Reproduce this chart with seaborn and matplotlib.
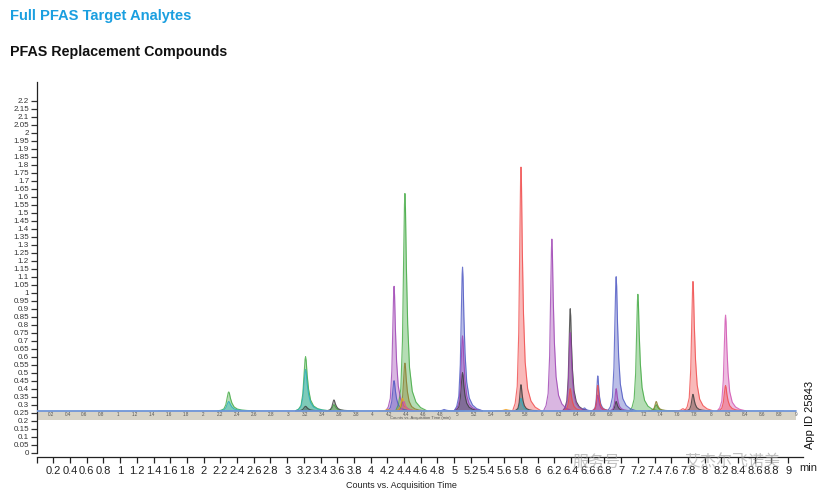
import numpy as np
import pandas as pd
import seaborn as sns
import matplotlib.pyplot as plt
from matplotlib.patches import Rectangle

# chromatogram peaks (outer axis units)
peak_times = [2.30, 2.30, 3.22, 3.22, 3.22, 3.56, 3.56, 4.28, 4.28, 4.41, 4.41, 4.38, 4.40, 4.20,
              5.10, 5.10, 5.10, 4.88, 5.80, 5.80, 5.80, 5.62, 6.17, 6.39, 6.39, 6.39, 6.56,
              6.72, 6.72, 6.72, 6.94, 6.94, 6.94, 7.20, 7.42, 7.42, 7.86, 7.86, 7.74, 8.25, 8.25]
peak_tops = [0.38, 0.32, 0.60, 0.52, 0.29, 0.33, 0.30, 1.04, 0.45, 1.62, 0.56, 0.34, 0.32, 0.27,
             1.16, 0.73, 0.50, 0.27, 1.785, 0.425, 0.34, 0.27, 1.335, 0.90, 0.75, 0.40, 0.28,
             0.48, 0.42, 0.36, 1.10, 0.40, 0.32, 0.99, 0.32, 0.30, 1.07, 0.365, 0.275, 0.86, 0.42]
peak_compounds = ['G', 'T', 'G', 'T', 'K', 'K', 'G', 'P', 'B', 'G', 'O', 'Y', 'M', 'Y',
                  'B', 'P', 'K', 'B', 'R', 'K', 'T', 'Y', 'P', 'K', 'P', 'R', 'B',
                  'B', 'R', 'P', 'B', 'P', 'K', 'G', 'O', 'G', 'R', 'K', 'R', 'M', 'R']
peak_widths = [1.3, 1.3, 1.2, 1.2, 1.2, 1.0, 1.0, 1.0, 1.0, 1.1, 1.0, 1.0, 0.8, 1.0,
               1.0, 1.0, 1.0, 1.0, 1.0, 0.8, 0.8, 1.3, 1.0, 0.9, 0.9, 0.9, 0.8,
               0.7, 0.7, 0.7, 1.0, 0.8, 0.8, 1.0, 0.9, 0.9, 1.0, 0.9, 1.0, 1.0, 1.0]

# typical tailing peak shape, read from the 5.8 min peak
shape_offsets = [-0.1, -0.07, -0.045, -0.027, -0.014, -0.005, 0.0, 0.006, 0.016, 0.03,
                 0.05, 0.08, 0.12, 0.17, 0.24]
shape_rel = [0.0, 0.03, 0.1, 0.32, 0.7, 0.95, 1.0, 0.93, 0.66, 0.4, 0.2, 0.09, 0.04, 0.015, 0.0]

baseline = 0.262
hump_start, hump_end, hump_height = 1.45, 8.95, 0.008

x_ticks = [round(0.2 * i, 1) for i in range(46)]
inner_ticks = [round(0.2 * i, 1) for i in range(1, 46)]

palette = {'G': '#3ea83e', 'T': '#26aebf', 'K': '#3a3a3a', 'P': '#9c3fb2', 'B': '#4b55c2',
           'O': '#8a7a2a', 'Y': '#f0a020', 'M': '#d050b0', 'R': '#f04848'}


def fmt(v):
    return f"{v:g}"


rows = []
for i, (t, top, c, w) in enumerate(zip(peak_times, peak_tops, peak_compounds, peak_widths)):
    for off, r in zip(shape_offsets, shape_rel):
        rows.append({'peak': i, 'compound': c, 'time': t + off * w,
                     'counts': baseline + (top - baseline) * r})
df = pd.DataFrame(rows)

sns.set_style("ticks")
plt.rcParams['font.family'] = ['Liberation Sans', 'Noto Sans CJK SC', 'DejaVu Sans']

fig = plt.figure(figsize=(8.27, 5), dpi=100)
ax = fig.add_axes([36.7 / 827, 0.0866, 766.5 / 827, 0.7494])

# inner chromatogram axis strip
ax.add_patch(Rectangle((-0.02, 0.204), 9.11, baseline - 0.204, facecolor='#d7d3c7',
                       edgecolor='none', zorder=1))
ax.fill_between([hump_start, hump_end], baseline, baseline + hump_height, color='#a9c4ec',
                alpha=0.6, lw=0, zorder=1.5)

for i, g in df.groupby('peak'):
    ax.fill_between(g['time'], baseline, g['counts'], color=palette[g['compound'].iloc[0]],
                    alpha=0.38, lw=0, zorder=2)
sns.lineplot(data=df, x='time', y='counts', hue='compound', units='peak', estimator=None,
             palette=palette, sort=False, lw=0.8, alpha=0.8, legend=False, ax=ax, zorder=3)
ax.plot([-0.02, 9.09], [baseline, baseline], color='#7096d8', lw=1.3, zorder=4)

for t in inner_ticks:
    xo = -0.036 + 1.0144 * t
    ax.text(xo, 0.238, fmt(t), fontsize=3.3, color='#555555', ha='center', va='center', zorder=5)
ax.text(4.59, 0.214, 'Counts vs. Acquisition Time (min)', fontsize=3, color='#555555',
        ha='center', va='center', zorder=5)

ax.set_xlim(0, 9.18)
ax.set_ylim(-0.025, 2.317)
ax.set_xticks(x_ticks)
ax.set_xticklabels([''] + [fmt(v) for v in x_ticks[1:]])
ax.set_yticks([round(0.05 * i, 2) for i in range(45)])
ax.set_yticklabels([fmt(round(0.05 * i, 2)) for i in range(45)])
ax.tick_params(axis='x', length=4, width=0.9, pad=2.5, labelsize=8, colors='#222222')
ax.tick_params(axis='y', length=4, width=0.9, pad=1.5, labelsize=5.8, colors='#333333')
ax.set_xlabel('')
ax.set_ylabel('')
sns.despine(ax=ax)
ax.spines['left'].set_bounds(0, 2.317)
for s in ['left', 'bottom']:
    ax.spines[s].set_linewidth(0.9)
    ax.spines[s].set_color('#222222')

fig.text(808 / 827, 1 - 468 / 500, 'min', fontsize=8, color='#222222', ha='center', va='center')
fig.text(401 / 827, 1 - 485 / 500, 'Counts vs. Acquisition Time', fontsize=6.5, color='#222222',
         ha='center', va='center')
fig.text(810 / 827, 1 - 415 / 500, 'App ID 25843', fontsize=8, rotation=90, ha='center',
         va='center', color='#111111')

fig.text(10 / 827, 1 - 16 / 500, 'Full PFAS Target Analytes', fontsize=10.6, fontweight='bold',
         color='#1a9fe0', ha='left', va='center')
fig.text(10 / 827, 1 - 52 / 500, 'PFAS Replacement Compounds', fontsize=10.3, fontweight='bold',
         color='#111111', ha='left', va='center')

# wechat watermark
fig.text(597 / 827, 1 - 462 / 500, '服务号', fontsize=11.5, color='#999999', alpha=0.6,
         ha='center', va='center', family=['Noto Sans CJK SC', 'DejaVu Sans'])
fig.text(732 / 827, 1 - 462 / 500, '艾杰尔飞诺美', fontsize=11.5, color='#999999', alpha=0.6,
         ha='center', va='center', family=['Noto Sans CJK SC', 'DejaVu Sans'])

fig.savefig('out.png', dpi=100)
